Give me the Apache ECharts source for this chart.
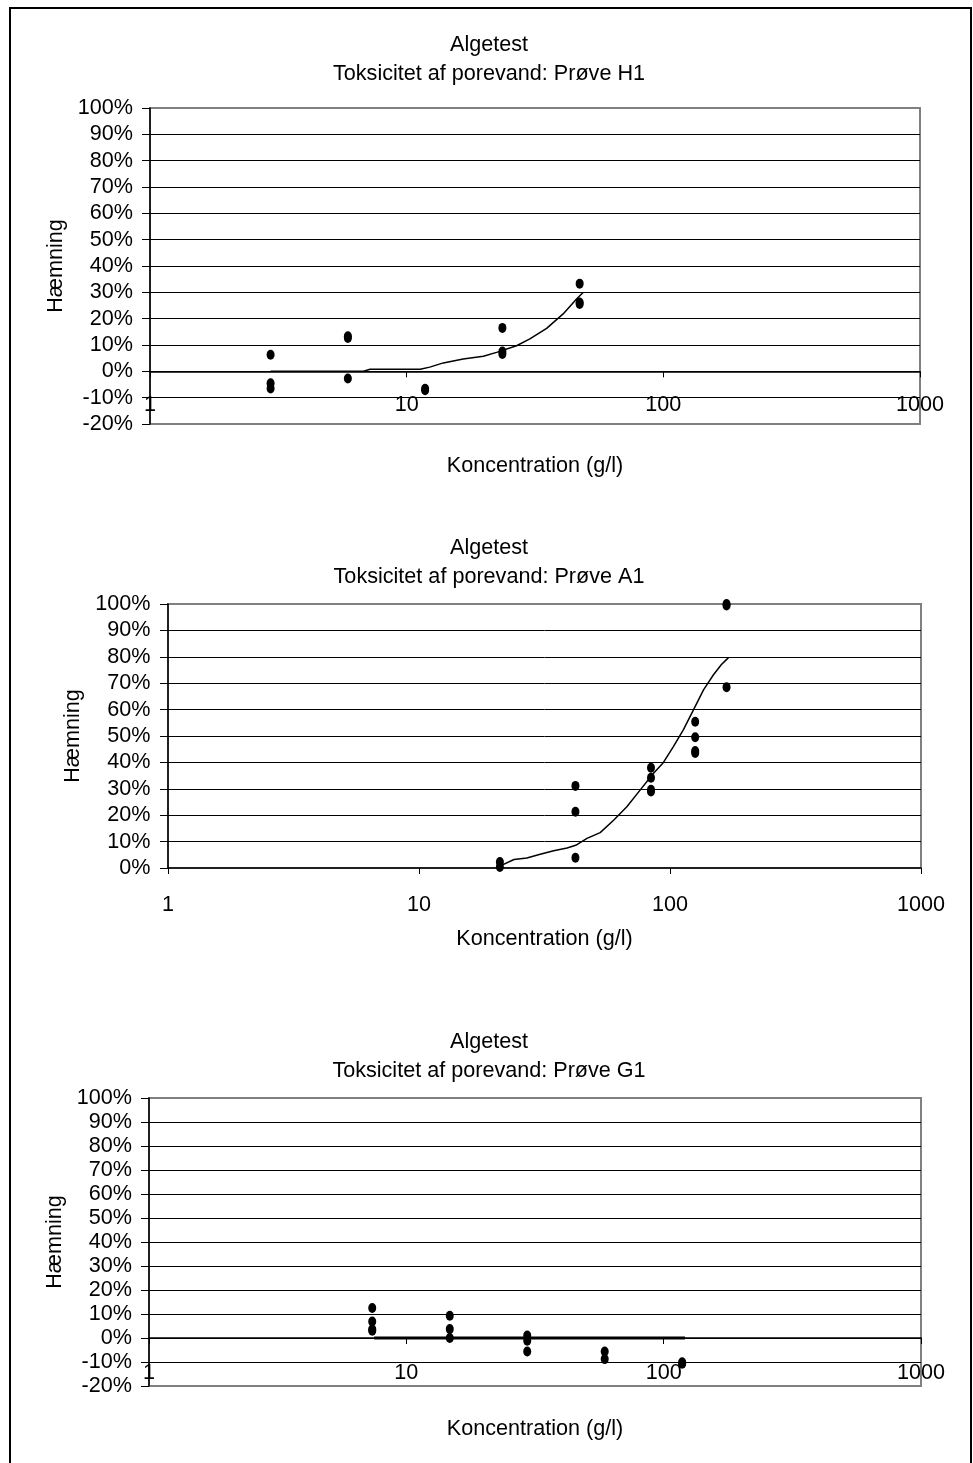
<!DOCTYPE html>
<html>
<head>
<meta charset="utf-8">
<script src="https://cdn.jsdelivr.net/npm/echarts@6/dist/echarts.min.js"></script>
<style>
html,body{margin:0;padding:0;background:#fff;}
#c{width:973px;height:1463px;}
</style>
</head>
<body>
<div id="c"></div>
<script>
// ---- Data ----
const xTickLabels = ['1', '10', '100', '1000'];

// Prøve H1
const h1Conc  = [2.95, 2.95, 2.95, 5.9, 5.9, 5.9, 11.8, 11.8, 23.6, 23.6, 23.6, 47.2, 47.2, 47.2];
const h1Inhib = [6.3, -4.5, -6.5, 13.3, 12.7, -2.7, -6.6, -7.2, 16.5, 7.5, 6.6, 33.3, 26.1, 25.6];
const h1FitConc = [2.95, 6.8, 7.2, 11.3, 12.3, 13.9, 16.6, 19.9, 22.4, 26.8, 30.2, 35.1, 40.7, 45.9, 48.8];
const h1FitVal  = [0, 0, 0.8, 0.8, 1.6, 3.2, 4.7, 5.7, 7.2, 9.7, 12.3, 16.3, 21.8, 27.5, 30.0];

// Prøve A1
const a1Conc  = [21, 21, 42, 42, 42, 84, 84, 84, 84, 126, 126, 126, 126, 168, 168, 168];
const a1Inhib = [2.3, 0.4, 31.1, 21.3, 3.9, 38.0, 34.2, 29.6, 29.0, 55.4, 49.5, 44.3, 43.6, 100, 99.4, 68.5];
const a1FitConc = [21.3, 23.9, 26.9, 30.4, 34.4, 38.9, 42.1, 46.7, 52.7, 59.6, 67.3, 76.0, 85.8, 94.0, 103, 113, 124, 136, 149, 160, 171];
const a1FitVal  = [1.0, 3.2, 3.8, 5.2, 6.5, 7.6, 8.6, 11.2, 13.4, 18.1, 23.2, 29.5, 35.8, 39.9, 45.9, 52.3, 59.9, 67.5, 73.2, 77.0, 79.7];

// Prøve G1
const g1Conc  = [7.37, 7.37, 7.37, 7.37, 14.75, 14.75, 14.75, 29.5, 29.5, 29.5, 59, 59, 118, 118];
const g1Inhib = [12.5, 6.9, 3.6, 3.0, 9.3, 3.7, 0.0, 1.0, -1.1, -5.6, -5.6, -8.8, -10.1, -10.7];
const g1FitConc = [7.5, 121];
const g1FitVal  = [0, 0];

const titles = [
  'Algetest\nToksicitet af porevand: Prøve H1',
  'Algetest\nToksicitet af porevand: Prøve A1',
  'Algetest\nToksicitet af porevand: Prøve G1'
];
const xName = 'Koncentration (g/l)';
const yName = 'Hæmning';

// ---- Chart ----
const FONT = 'Liberation Sans, Arial, sans-serif';
const FS = 21.6;
const zip = (a, b) => a.map((v, i) => [v, b[i]]);

const grids = [
  {left: 150, top: 108, width: 770, height: 316},
  {left: 168, top: 604, width: 753, height: 264},
  {left: 149, top: 1098, width: 772, height: 288}
].map(g => Object.assign(g, {show: true, borderColor: '#808080', borderWidth: 2,
  backgroundColor: 'transparent', containLabel: false, outerBoundsMode: 'none'}));

const yRanges = [[-20, 100], [0, 100], [-20, 100]];
const yNameGaps = [76, 82, 76];
const yLabelMargins = [17, 17.5, 17];
const xLabelMargins = [-29.5, 26, -23.5];
const xNameGaps = [31, 60, 32];

const xAxes = [0, 1, 2].map(i => ({
  gridIndex: i, type: 'log', logBase: 10, min: 1, max: 1000,
  name: xName, nameLocation: 'middle', nameGap: xNameGaps[i],
  nameTextStyle: {fontSize: FS, fontFamily: FONT, color: '#000'},
  axisLine: {show: true, onZero: true, lineStyle: {color: '#000', width: 1.5}},
  axisTick: {show: true, length: 6, inside: false, lineStyle: {color: '#000', width: 1}},
  minorTick: {show: false},
  axisLabel: {show: true, margin: xLabelMargins[i], fontSize: FS, fontFamily: FONT, color: '#000',
    formatter: v => xTickLabels[Math.round(Math.log10(v))] ?? String(v)},
  splitLine: {show: false}
}));

const yAxes = [0, 1, 2].map(i => ({
  gridIndex: i, type: 'value', min: yRanges[i][0], max: yRanges[i][1], interval: 10,
  name: yName, nameLocation: 'middle', nameGap: yNameGaps[i], nameRotate: 90,
  nameTextStyle: {fontSize: FS, fontFamily: FONT, color: '#000'},
  axisLine: {show: true, onZero: false, lineStyle: {color: '#000', width: 1.5}},
  axisTick: {show: true, length: 8, lineStyle: {color: '#000', width: 1}},
  axisLabel: {show: true, margin: yLabelMargins[i], fontSize: FS, fontFamily: FONT, color: '#000',
    formatter: '{value}%'},
  splitLine: {show: true, showMinLine: false, showMaxLine: false, lineStyle: {color: '#000', width: 1}}
}));

const titleTops = [31, 534, 1028];
const title = titles.map((t, i) => ({
  text: t, left: 489, top: titleTops[i], textAlign: 'center', padding: 0,
  textStyle: {fontSize: FS, fontWeight: 'normal', color: '#000', fontFamily: FONT, lineHeight: 29}
}));

const scatterStyle = {symbol: 'circle', symbolSize: [8, 10], itemStyle: {color: '#000', opacity: 1}, z: 5};
const lineStyle = w => ({showSymbol: false, symbol: 'none', smooth: false,
  lineStyle: {color: '#000', width: w}, z: 4});

const series = [
  Object.assign({type: 'scatter', xAxisIndex: 0, yAxisIndex: 0, data: zip(h1Conc, h1Inhib)}, scatterStyle),
  Object.assign({type: 'line', xAxisIndex: 0, yAxisIndex: 0, data: zip(h1FitConc, h1FitVal)}, lineStyle(1.5)),
  Object.assign({type: 'scatter', xAxisIndex: 1, yAxisIndex: 1, data: zip(a1Conc, a1Inhib)}, scatterStyle),
  Object.assign({type: 'line', xAxisIndex: 1, yAxisIndex: 1, data: zip(a1FitConc, a1FitVal)}, lineStyle(1.5)),
  Object.assign({type: 'scatter', xAxisIndex: 2, yAxisIndex: 2, data: zip(g1Conc, g1Inhib)}, scatterStyle),
  Object.assign({type: 'line', xAxisIndex: 2, yAxisIndex: 2, data: zip(g1FitConc, g1FitVal)}, lineStyle(3))
];

const chart = echarts.init(document.getElementById('c'), null, {renderer: 'canvas'});
chart.setOption({
  animation: false,
  backgroundColor: '#fff',
  title: title,
  grid: grids,
  xAxis: xAxes,
  yAxis: yAxes,
  series: series,
  graphic: [{
    type: 'rect', silent: true, z: 100,
    shape: {x: 10, y: 8, width: 961, height: 1500},
    style: {fill: 'none', stroke: '#000', lineWidth: 2}
  }]
});
</script>
</body>
</html>
